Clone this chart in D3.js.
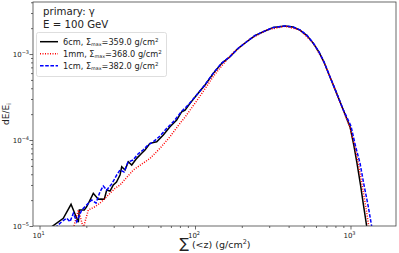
<html>
<head>
<script src="https://cdn.jsdelivr.net/npm/d3@7"></script>
<style>
body{margin:0;background:#fff}
text{font-family:"DejaVu Sans",sans-serif;fill:#222}
</style>
</head>
<body>
<svg id="chart" width="399" height="253"></svg>
<script>
// legend entries
const labels = ["6cm", "1mm", "1cm"];
const sigmaMax = [359.0, 368.0, 382.0];
const colors = ["#000000", "#ff0000", "#0000ff"];
const dashes = [null, "1,1.5", "3.6,1.6"];

// [sum (<z) in g/cm2, dE/Ei]
const profile6cm = [[11.98,9.8e-6],[14.22,1.229e-5],[15.95,1.788e-5],[17.77,1.104e-5],[18.03,1.535e-5],[19.41,1.535e-5],[20.12,1.676e-5],[22.18,2.40e-5],[23.88,2.044e-5],[24.86,2.06e-5],[26.11,2.044e-5],[27.05,2.62e-5],[28.41,2.55e-5],[29.83,3.0e-5],[31.27,3.25e-5],[32.94,3.92e-5],[33.78,4.89e-5],[35.48,4.48e-5],[37.24,5.59e-5],[39.17,5.12e-5],[42.17,6.12e-5],[45.41,7.0e-5],[47.68,7.65e-5],[51.36,9.16e-5],[56.72,9.55e-5],[62.53,1.143e-4],[69.04,1.428e-4],[76.25,1.708e-4],[82.13,2.134e-4],[86.3,2.23e-4],[92.9,2.67e-4],[102.5,3.34e-4],[116.0,4.36e-4],[131.1,5.96e-4],[149.1,7.86e-4],[167.9,9.30e-4],[189.0,1.159e-3],[215.0,1.39e-3],[243.2,1.641e-3],[274.9,1.816e-3],[318.8,2.04e-3],[379.2,2.117e-3],[426.6,2.06e-3],[473.3,1.90e-3],[525.0,1.641e-3],[576.6,1.33e-3],[627.2,1.055e-3],[675.4,8.07e-4],[738.0,5.41e-4],[815.3,3.49e-4],[898.8,2.23e-4],[992.7,1.428e-4],[1053,8.51e-5],[1101,5.40e-5],[1160,3.0e-5],[1212,1.754e-5],[1276,9.5e-6]];
const profile1mm = [[16.50,9.4e-6],[17.77,1.535e-5],[19.13,9.5e-6],[20.60,1.535e-5],[22.74,1.676e-5],[25.12,1.918e-5],[27.70,2.294e-5],[30.59,2.74e-5],[32.94,3.0e-5],[36.5,3.7e-5],[40.11,4.48e-5],[46.51,5.40e-5],[51.36,6.12e-5],[59.56,8.01e-5],[69.04,1.092e-4],[80.09,1.564e-4],[86.3,1.85e-4],[102.5,2.85e-4],[116.0,3.95e-4],[131.1,5.5e-4],[149.1,7.35e-4],[176.3,1.04e-3],[225.8,1.5e-3],[289.1,1.90e-3],[379.2,2.11e-3],[473.3,1.90e-3],[576.6,1.34e-3],[675.4,8.1e-4],[738.0,5.4e-4],[815.3,3.47e-4],[898.8,2.2e-4],[992.7,1.41e-4],[1069,8.29e-5],[1134,4.85e-5],[1203,2.62e-5],[1259,1.618e-5],[1315,9.5e-6]];
const profile1cm = [[12.58,9.5e-6],[13.89,1.122e-5],[14.96,1.229e-5],[15.71,1.122e-5],[16.50,1.405e-5],[17.35,1.122e-5],[18.68,1.535e-5],[20.60,1.836e-5],[21.66,2.006e-5],[23.09,1.85e-5],[24.49,2.5e-5],[25.71,2.92e-5],[27.05,2.62e-5],[29.13,3.08e-5],[31.38,3.92e-5],[32.94,4.48e-5],[34.95,4.25e-5],[37.08,5.55e-5],[39.92,5.85e-5],[42.99,6.88e-5],[46.31,7.65e-5],[49.86,8.75e-5],[53.70,9.48e-5],[59.56,1.113e-4],[66.07,1.379e-4],[73.29,1.663e-4],[81.28,2.117e-4],[90.16,2.55e-4],[102.5,3.34e-4],[116.0,4.4e-4],[131.1,6.0e-4],[149.1,7.9e-4],[167.9,9.35e-4],[189.0,1.16e-3],[215.0,1.39e-3],[243.2,1.645e-3],[274.9,1.82e-3],[318.8,2.04e-3],[379.2,2.12e-3],[426.6,2.06e-3],[473.3,1.91e-3],[525.0,1.65e-3],[576.6,1.34e-3],[627.2,1.06e-3],[675.4,8.1e-4],[738.0,5.45e-4],[815.3,3.5e-4],[898.8,2.25e-4],[1007,1.455e-4],[1077,8.51e-5],[1151,5.40e-5],[1221,3.0e-5],[1296,1.754e-5],[1374,9.5e-6]];
const profiles = [profile6cm, profile1mm, profile1cm];

const xTickPowers = [1, 2, 3];
const yTickPowers = [-5, -4, -3];

const m = {left: 33, right: 396, top: 2, bottom: 226};
const svg = d3.select("#chart");

const x = d3.scaleLog().domain([9.08, 1962]).range([m.left, m.right]);
const y = d3.scaleLog().domain([1e-5, 4.03e-3]).range([m.bottom, m.top]);

svg.append("clipPath").attr("id", "plotclip")
	.append("rect").attr("x", m.left).attr("y", m.top)
	.attr("width", m.right - m.left).attr("height", m.bottom - m.top);

// minor + major ticks
const xMinor = x.ticks().filter(v => !xTickPowers.some(p => Math.abs(v - Math.pow(10, p)) < 1e-9));
const yMinor = y.ticks().filter(v => !yTickPowers.some(p => Math.abs(v / Math.pow(10, p) - 1) < 1e-6));

const gx = svg.append("g").attr("transform", `translate(0,${m.bottom})`);
gx.append("g").call(d3.axisBottom(x).tickValues(xMinor).tickSize(2).tickFormat(""));
gx.append("g").call(d3.axisBottom(x).tickValues(xTickPowers.map(p => Math.pow(10, p))).tickSize(3.5).tickFormat(""));
const gy = svg.append("g").attr("transform", `translate(${m.left},0)`);
gy.append("g").call(d3.axisLeft(y).tickValues(yMinor).tickSize(2).tickFormat(""));
gy.append("g").call(d3.axisLeft(y).tickValues(yTickPowers.map(p => Math.pow(10, p))).tickSize(3.5).tickFormat(""));
svg.selectAll(".domain").remove();
svg.selectAll(".tick line").attr("stroke", "#444").attr("stroke-width", 0.8);

// tick labels with superscripts
xTickPowers.forEach(p => {
	const t = svg.append("text").attr("x", x(Math.pow(10, p)) - 1).attr("y", 237.5)
		.attr("text-anchor", "middle").style("font-size", "7px");
	t.append("tspan").text("10");
	t.append("tspan").attr("dy", -3).style("font-size", "5px").text(p);
});
yTickPowers.forEach(p => {
	const t = svg.append("text").attr("x", 29).attr("y", y(Math.pow(10, p)) + 2.5)
		.attr("text-anchor", "end").style("font-size", "7px");
	t.append("tspan").text("10");
	t.append("tspan").attr("dy", -3).style("font-size", "5px").text("\u2212" + (-p));
});

// curves
const line = d3.line().x(d => x(d[0])).y(d => y(d[1]));
const plot = svg.append("g").attr("clip-path", "url(#plotclip)");
profiles.forEach((pr, i) => {
	plot.append("path").datum(pr)
		.attr("d", line)
		.attr("fill", "none")
		.attr("stroke", colors[i])
		.attr("stroke-width", 1.5)
		.attr("stroke-dasharray", dashes[i]);
});

// frame
svg.append("rect").attr("x", m.left).attr("y", m.top)
	.attr("width", m.right - m.left).attr("height", m.bottom - m.top)
	.attr("fill", "none").attr("stroke", "#444").attr("stroke-width", 0.8);

// annotation
svg.append("text").attr("x", 43).attr("y", 15).style("font-size", "10.2px").text("primary: \u03b3");
svg.append("text").attr("x", 43).attr("y", 27.5).style("font-size", "10.2px").text("E = 100 GeV");

// legend
const lg = svg.append("g");
lg.append("rect").attr("x", 36.5).attr("y", 32.5).attr("width", 130).attr("height", 44)
	.attr("rx", 2).attr("fill", "#fff").attr("fill-opacity", 0.8)
	.attr("stroke", "#d6d6d6").attr("stroke-width", 0.8);
labels.forEach((lab, i) => {
	const yy = 41.7 + i * 12;
	lg.append("line").attr("x1", 40).attr("x2", 58).attr("y1", yy).attr("y2", yy)
		.attr("stroke", colors[i]).attr("stroke-width", 1.5).attr("stroke-dasharray", dashes[i]);
	const t = lg.append("text").attr("x", 63).attr("y", yy + 2.8).style("font-size", "8.2px");
	t.append("tspan").text(lab + ", \u03a3");
	t.append("tspan").attr("dy", 1.8).style("font-size", "4.8px").text("max");
	t.append("tspan").attr("dy", -1.8).text("=" + sigmaMax[i].toFixed(1) + " g/cm");
	t.append("tspan").attr("dy", -3).style("font-size", "5.5px").text("2");
});

// axis labels
const xl = svg.append("text").attr("x", 215).attr("y", 248).attr("text-anchor", "middle").style("font-size", "9.5px");
xl.append("tspan").style("font-size", "14px").text("\u2211");
xl.append("tspan").text(" (<z) (g/cm");
xl.append("tspan").attr("dy", -4).style("font-size", "6.5px").text("2");
xl.append("tspan").attr("dy", 4).text(")");

const yl = svg.append("text").attr("transform", "translate(9,114) rotate(-90)")
	.attr("text-anchor", "middle").style("font-size", "9px");
yl.append("tspan").text("dE/E");
yl.append("tspan").attr("dy", 2).style("font-size", "6px").text("i");
</script>
</body>
</html>
